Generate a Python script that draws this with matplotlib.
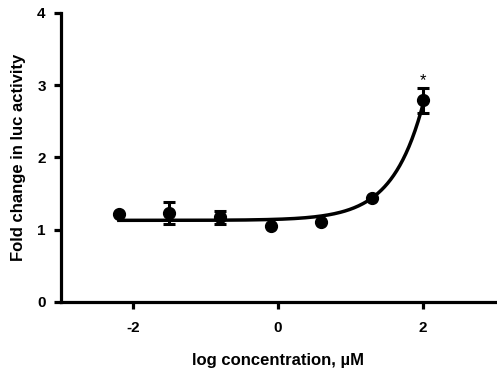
import numpy as np
import matplotlib
matplotlib.use("Agg")
import matplotlib.pyplot as plt

# log concentration (uM) and fold change (mean +/- SEM)
log_conc = [-2.2, -1.5, -0.8, -0.1, 0.6, 1.3, 2.0]
fold_change = [1.22, 1.23, 1.17, 1.05, 1.11, 1.44, 2.79]
fold_err = [0.0, 0.15, 0.09, 0.0, 0.0, 0.0, 0.17]

# fitted curve parameters: y = baseline + amp * 10**(rate * x)
fit_baseline = 1.13
fit_amp = 0.0149
fit_rate = 1.014

sig_x = [2.0]
sig_y = [3.0]
sig_text = ["*"]

x_ticks = [-2, 0, 2]
y_ticks = [0, 1, 2, 3, 4]

plt.rcParams["font.family"] = ["Liberation Sans", "DejaVu Sans"]

fig = plt.figure(figsize=(4.97, 3.8), dpi=100)
ax = fig.add_axes([0.1227, 0.2053, 0.8733, 0.7605])

xs = np.linspace(min(log_conc), max(log_conc), 200)
ax.plot(xs, fit_baseline + fit_amp * 10 ** (fit_rate * xs), color="black", lw=2.5, zorder=2)

ax.errorbar(log_conc, fold_change, yerr=fold_err, fmt="o", color="black",
            ms=8.5, elinewidth=2.2, capsize=4.5, capthick=2.2, zorder=3)

for x, y, t in zip(sig_x, sig_y, sig_text):
    ax.text(x, y, t, ha="center", va="baseline", fontsize=12, color="black")

ax.set_xlim(-3, 3)
ax.set_ylim(0, 4)
ax.set_xticks(x_ticks)
ax.set_yticks(y_ticks)
ax.set_xticklabels([str(v) for v in x_ticks], fontsize=11, fontweight="bold")
ax.set_yticklabels([str(v) for v in y_ticks], fontsize=11, fontweight="bold")

for side in ["top", "right"]:
    ax.spines[side].set_visible(False)
for side in ["left", "bottom"]:
    ax.spines[side].set_linewidth(2.3)
ax.tick_params(width=2.3, length=5, pad=6, direction="out")
ax.tick_params(axis="x", pad=9)

ax.set_xlabel("log concentration, µM", fontsize=12, fontweight="bold", labelpad=13)
ax.set_ylabel("Fold change in luc activity", fontsize=12, fontweight="bold", labelpad=8)

fig.savefig("out.png", dpi=100)
